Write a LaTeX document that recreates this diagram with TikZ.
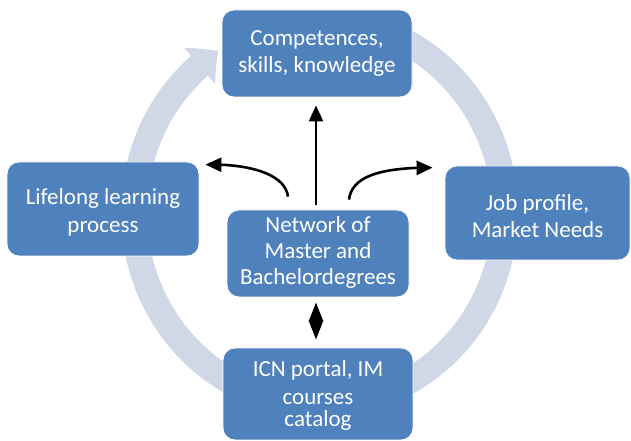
\documentclass[tikz,border=0pt]{standalone}
\usepackage{fontspec}
\setmainfont{Carlito}
\usetikzlibrary{arrows.meta,bending,calc}
\definecolor{boxblue}{HTML}{4F81BD}
\definecolor{ringcol}{HTML}{D0D8E8}
\tikzset{
  box/.style={rounded corners=12pt, fill=boxblue, draw=white, line width=0.8pt,
    text=white, align=center, inner sep=0pt,
    font=\fontsize{23}{27}\selectfont},
  ring/.style={ringcol, line width=26pt,
    -{Triangle[length=24pt,width=46pt,bend]}},
  arr/.style={black, line width=2.6pt, -{Triangle[length=16pt,width=14pt]}},
  darr/.style={black, line width=2.6pt, {Triangle[length=19pt,width=14pt]}-{Triangle[length=19pt,width=14pt]}}
}
\newcommand{\shifttext}[2]{\raisebox{#1}[0pt][0pt]{\begin{tabular}{@{}c@{}}#2\end{tabular}}}
\begin{document}
\begin{tikzpicture}[x=1pt,y=1pt]
\useasboundingbox (0,0) rectangle (631,441);
\coordinate (cc) at (319.5,228.5);
% ring
\draw[ring] ($(cc)+(75:185.5 and 192.5)$) arc[start angle=75, end angle=-237, x radius=185.5, y radius=192.5];
% boxes
\node[box, minimum width=190pt, minimum height=87pt] (top) at (317,387.5) {Competences,\\ skills, knowledge};
\node[box, minimum width=192pt, minimum height=94pt] (left) at (103,232) {\shifttext{-10pt}{Lifelong learning\\[1pt] process}};
\node[box, minimum width=185pt, minimum height=94pt] (right) at (537.5,228) {\shifttext{-12pt}{Job profile,\\ Market Needs}};
\node[box, minimum width=182pt, minimum height=87pt] (c) at (318,187.5) {\shifttext{-6pt}{Network of\\[-1pt] Master and\\[-1pt] Bachelordegrees}};
\node[box, minimum width=190pt, minimum height=92pt] (bot) at (318,47) {\shifttext{-8pt}{ICN portal, IM\\[1pt] courses\\[-5pt] catalog}};
% connectors
\draw[arr] ([xshift=-2pt,yshift=5pt]c.north) -- ([xshift=-1pt,yshift=-8pt]top.south);
\draw[arr] ([xshift=-30pt,yshift=13pt]c.north) .. controls +(-3,24) and +(40,1) .. ([xshift=6pt,yshift=-3pt]left.north east);
\draw[arr] ([xshift=31pt,yshift=10pt]c.north) .. controls +(3,25) and +(-48,0) .. ([xshift=-12pt,yshift=-2pt]right.north west);
\draw[darr] ([xshift=-2pt,yshift=-5pt]c.south) -- ([xshift=-2pt,yshift=8pt]bot.north);
\end{tikzpicture}
\end{document}
